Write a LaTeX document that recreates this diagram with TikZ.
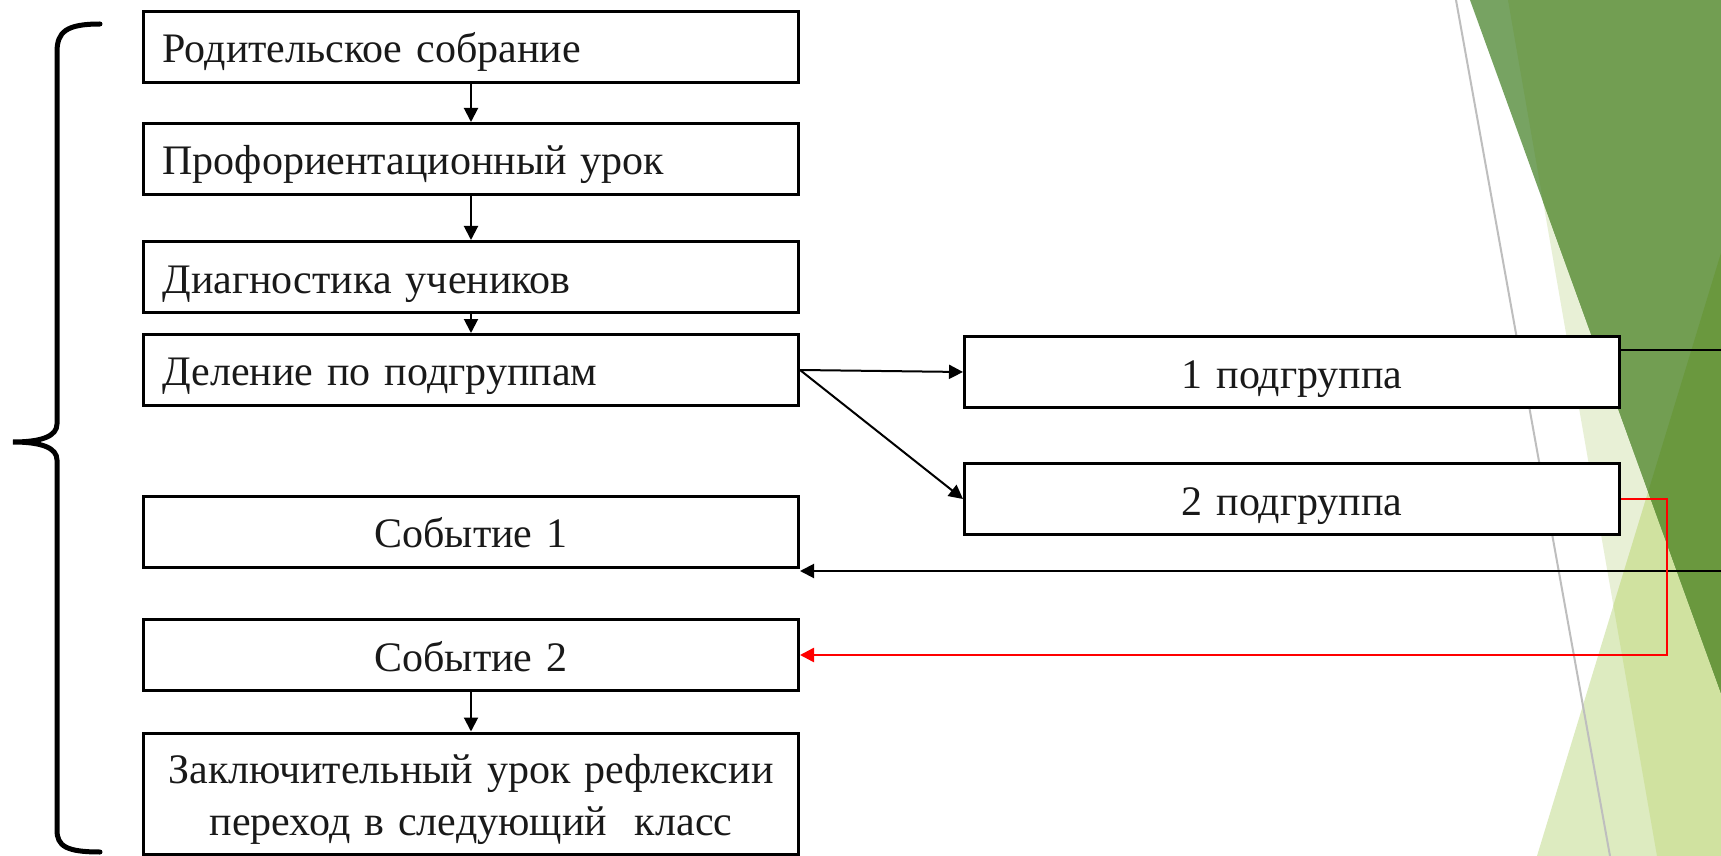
\documentclass[tikz,border=0pt]{standalone}
\usepackage{fontspec}
\setmainfont{Liberation Serif}
\usetikzlibrary{positioning,arrows.meta}
\definecolor{facetA}{RGB}{119,163,98}
\definecolor{facetAC}{RGB}{114,158,82}
\definecolor{facetABC}{RGB}{106,152,62}
\definecolor{facetB}{RGB}{221,235,192}
\definecolor{facetBC}{RGB}{208,226,160}
\definecolor{facetC}{RGB}{232,240,214}
\definecolor{facetline}{RGB}{190,190,190}
\definecolor{boxtext}{RGB}{25,25,25}

\begin{document}
\begin{tikzpicture}[x=0.5pt,y=0.5pt,yscale=-1,
    box/.style={draw=black,line width=1.5pt,fill=white,text=boxtext,
        minimum height=35.5pt,inner xsep=9.5pt,text width=308.5pt,
        text height=16pt,text depth=0pt,
        font=\fontsize{21}{26}\selectfont},
    lbox/.style={box,align=left},
    cbox/.style={box,align=center},
    link/.style={line width=1pt,-{Triangle[length=7pt,width=7pt]}}]
        \clip (0,0) rectangle (1721,856);
        \fill [white] (0,0) rectangle (1721,856);
        \fill [facetC] (1508,0) -- (1721,0) -- (1721,856) -- (1657,856) -- cycle;
        \fill [facetB] (1537,856) -- (1721,253) -- (1721,856) -- cycle;
        \begin{scope}
            \clip (1508,0) -- (1721,0) -- (1721,856) -- (1657,856) -- cycle;
            \fill [facetBC] (1537,856) -- (1721,253) -- (1721,856) -- cycle;
        \end{scope}
        \fill [facetA] (1470,0) -- (1721,0) -- (1721,693) -- cycle;
        \begin{scope}
            \clip (1470,0) -- (1721,0) -- (1721,693) -- cycle;
            \fill [facetAC] (1508,0) -- (1721,0) -- (1721,856) -- (1657,856) -- cycle;
            \fill [facetABC] (1537,856) -- (1721,253) -- (1721,856) -- cycle;
        \end{scope}
        \draw [facetline,line width=1pt] (1456,0) -- (1610,856);

        \draw [line width=2.5pt,line cap=round] (100,24) .. controls (66,24) and (57,32) .. (57,52) -- (57,424) .. controls (57,436) and (42,442) .. (13,442) .. controls (42,442) and (57,448) .. (57,460) -- (57,830) .. controls (57,846) and (66,852) .. (100,852);

        \node [lbox] (rod) at (471,47) {Родительское собрание};
        \node [lbox] (prof) at (471,159) {Профориентационный урок};
        \node [lbox] (diag) at (471,277) {Диагностика учеников};
        \node [lbox] (del) at (471,370) {Деление по подгруппам};
        \node [cbox] (pg1) at (1292,372) {1 подгруппа};
        \node [cbox] (pg2) at (1292,499) {2 подгруппа};
        \node [cbox] (sob1) at (471,531.5) {Событие 1};
        \node [cbox] (sob2) at (471,655) {Событие 2};
        \node [cbox,minimum height=60.5pt,text depth=26.5pt] (zakl) at (471,793.5) {Заключительный урок рефлексии\\переход в следующий~ класс};

        \coordinate (out1) at (1760,350);
        \coordinate (back1) at (1760,571);
        \coordinate (redturn) at (1667,577);

        \draw [link] (rod) -- (prof);
        \draw [link] (prof) -- (diag);
        \draw [link] (diag) -- (del);
        \draw [link] (del.east) -- (pg1.west);
        \draw [link] (del.east) -- (pg2.west);
        \draw [link] (sob2) -- (zakl);
        \draw [link] (pg1.east |- out1) -- (out1) -- (back1) -- (sob1.east |- back1);
        \draw [link,red,line width=1.25pt] (pg2.east) -| (redturn) |- (sob2.east);
    \end{tikzpicture}
\end{document}
